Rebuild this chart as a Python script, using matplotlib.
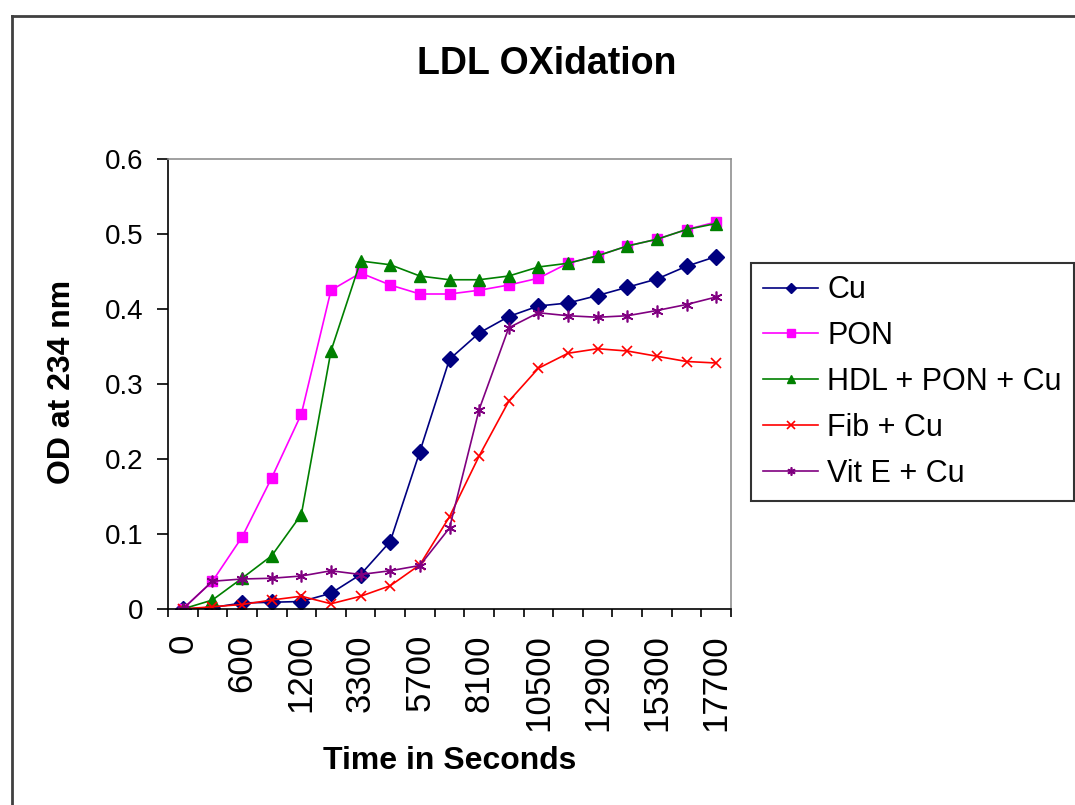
import matplotlib.pyplot as plt
import numpy as np

# time points (seconds) - category axis, every other one labelled
times = [0, 300, 600, 900, 1200, 2100, 3300, 4500, 5700, 6900, 8100,
         9300, 10500, 11700, 12900, 14100, 15300, 16500, 17700]

cu = [0.0, 0.002, 0.008, 0.009, 0.010, 0.021, 0.046, 0.090, 0.210, 0.333,
      0.368, 0.390, 0.404, 0.408, 0.418, 0.429, 0.440, 0.457, 0.470]
pon = [0.0, 0.037, 0.096, 0.175, 0.260, 0.425, 0.448, 0.432, 0.420, 0.420,
       0.425, 0.432, 0.441, 0.461, 0.471, 0.484, 0.493, 0.506, 0.516]
hdl = [0.0, 0.012, 0.041, 0.071, 0.126, 0.344, 0.464, 0.459, 0.444, 0.439,
       0.439, 0.444, 0.456, 0.461, 0.471, 0.484, 0.493, 0.506, 0.514]
fib = [0.0, 0.003, 0.006, 0.012, 0.017, 0.007, 0.017, 0.031, 0.059, 0.123,
       0.204, 0.277, 0.321, 0.341, 0.347, 0.344, 0.337, 0.330, 0.328]
vite = [0.0, 0.037, 0.040, 0.041, 0.044, 0.051, 0.046, 0.051, 0.058, 0.108,
        0.266, 0.375, 0.395, 0.391, 0.389, 0.391, 0.398, 0.406, 0.416]

labels = ['Cu', 'PON', 'HDL + PON + Cu', 'Fib + Cu', 'Vit E + Cu']

plt.rcParams['font.family'] = ['Liberation Sans', 'DejaVu Sans']

fig = plt.figure(figsize=(10.75, 8.05), dpi=100)
ax = fig.add_axes([168/1075, 1 - 609/805, (731 - 168)/1075, (609 - 159)/805])

x = np.arange(len(times))
ax.plot(x, cu, color='#000080', marker='D', ms=8, lw=1.2, label=labels[0])
ax.plot(x, pon, color='#FF00FF', marker='s', ms=7.5, lw=1.2, label=labels[1])
ax.plot(x, hdl, color='#008000', marker='^', ms=8.5, lw=1.2, label=labels[2])
ax.plot(x, fib, color='#FF0000', marker='x', ms=7.5, mew=1.2, lw=1.2, label=labels[3])
ax.plot(x, vite, color='#800080', marker=(6, 2, 0), ms=8.5, mew=1.2, lw=1.2, label=labels[4])

ax.set_xlim(-0.5, len(times) - 0.5)
ax.set_ylim(0, 0.6)
ax.set_yticks(np.arange(0, 0.61, 0.1))
ax.set_yticklabels(['0', '0.1', '0.2', '0.3', '0.4', '0.5', '0.6'])
ax.tick_params(axis='y', direction='out', length=8, width=1.2, pad=10, labelsize=20)

ax.set_xticks(x[::2])
ax.set_xticklabels([str(t) for t in times[::2]], rotation=90, va='top')
ax.set_xticks(np.arange(-0.5, len(times)), minor=True)
ax.tick_params(axis='x', which='major', length=0, pad=18, labelsize=25)
ax.tick_params(axis='x', which='minor', direction='out', length=6, width=1.2)

for s in ['top', 'right']:
    ax.spines[s].set_color('#909090')
    ax.spines[s].set_linewidth(1.2)
for s in ['left', 'bottom']:
    ax.spines[s].set_color('black')
    ax.spines[s].set_linewidth(1.2)

fig.text(547/1075, 1 - 64/805, 'LDL OXidation', ha='center', va='center',
         fontsize=27, fontweight='bold')
fig.text(62/1075, 1 - 382/805, 'OD at 234 nm', ha='center', va='center',
         rotation=90, fontsize=23, fontweight='bold')
fig.text(450/1075, 1 - 761/805, 'Time in Seconds', ha='center', va='center',
         fontsize=23, fontweight='bold')

leg = fig.legend(loc='upper left', bbox_to_anchor=(751/1075, 1 - 263/805),
                 fontsize=22, frameon=True, fancybox=False, borderaxespad=0,
                 handlelength=1.8, handletextpad=0.3, labelspacing=0.52,
                 borderpad=0.4, markerscale=0.7)
leg.get_frame().set_edgecolor('black')
leg.get_frame().set_linewidth(1.5)

# chart border (left and top edges visible)
fig.add_artist(plt.Line2D([12/1075, 12/1075], [0, 1 - 16/805],
                          transform=fig.transFigure, color='#404040', lw=2))
fig.add_artist(plt.Line2D([12/1075, 1], [1 - 16/805, 1 - 16/805],
                          transform=fig.transFigure, color='#404040', lw=2))

fig.savefig('out.png', dpi=100)
